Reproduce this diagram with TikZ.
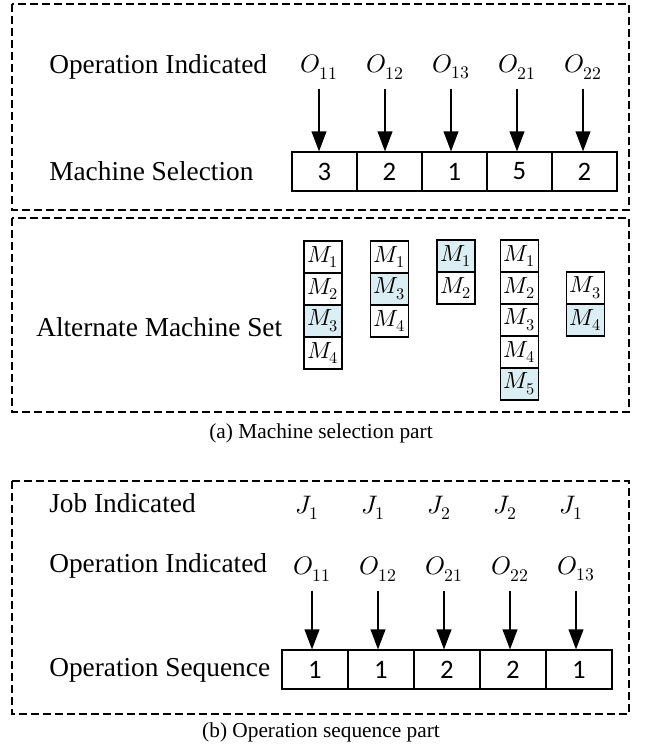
\documentclass[tikz,border=0pt]{standalone}
\usepackage{fontspec}
\usepackage{unicode-math}
\setmainfont{Liberation Serif}
\setmathfont{Latin Modern Math}
\newfontfamily\cellfont{Carlito}
\usetikzlibrary{arrows.meta}
\definecolor{selblue}{RGB}{218,238,243}

\begin{document}
\begin{tikzpicture}[x=0.75pt,y=-0.75pt,
  frame/.style={draw, dash pattern=on 6pt off 3pt, line width=0.8pt},
  rowlabel/.style={anchor=west, inner sep=0pt, font=\fontsize{20.5}{24}\selectfont},
  oplabel/.style={inner sep=1pt, font=\fontsize{19}{21}\selectfont},
  gene/.style={draw, line width=0.8pt, minimum width=48.75pt, minimum height=29.25pt, inner sep=0pt, font=\cellfont\fontsize{20}{24}\selectfont},
  mcell/.style={draw, line width=0.9pt, minimum width=28.5pt, minimum height=24pt, inner sep=0pt, font=\fontsize{17.5}{19}\selectfont},
  chosen/.style={fill=selblue},
  pointer/.style={-{Triangle[length=15pt,width=11pt]}, line width=1.2pt, shorten <=6pt},
  caption/.style={font=\fontsize{16}{18}\selectfont}
]
\useasboundingbox (0,0) rectangle (644,746);

% dashed frames
\draw[frame] (12,4) rectangle (629,210);
\draw[frame] (12,218) rectangle (629,412);
\draw[frame] (12,481) rectangle (629,714);

% ---- machine selection string ----
\node[rowlabel] (opindA) at (49,67) {Operation Indicated};
\node[rowlabel] (msel) at (49,171) {Machine Selection};
\foreach \v [count=\i] in {3,2,1,5,2}
  \node[gene] (g\i) at ({324.5+65*(\i-1)},171.5) {\v};
\foreach \s [count=\i] in {11,12,13,21,22}
  \node[oplabel] (t\i) at ({319+66*(\i-1)},67) {$O_{\s}$};
\foreach \i in {1,...,5}
  \draw[pointer] (t\i.south) -- (t\i.south |- g\i.north);

% ---- alternative machine sets ----
\node[rowlabel] (altset) at (36,327) {Alternate Machine Set};

\node[mcell] (a1) at (323,257) {$M_1$};
\node[mcell] (a2) at (323,289) {$M_2$};
\node[mcell,chosen] (a3) at (323,321) {$M_3$};
\node[mcell] (a4) at (323,353) {$M_4$};

\node[mcell] (b1) at (389.5,257) {$M_1$};
\node[mcell,chosen] (b2) at (389.5,289) {$M_3$};
\node[mcell] (b3) at (389.5,321) {$M_4$};

\node[mcell,chosen] (c1) at (456,256) {$M_1$};
\node[mcell] (c2) at (456,288) {$M_2$};

\node[mcell] (d1) at (519.5,256) {$M_1$};
\node[mcell] (d2) at (519.5,288) {$M_2$};
\node[mcell] (d3) at (519.5,320) {$M_3$};
\node[mcell] (d4) at (519.5,352) {$M_4$};
\node[mcell,chosen] (d5) at (519.5,384) {$M_5$};

\node[mcell] (e1) at (585.5,288) {$M_3$};
\node[mcell,chosen] (e2) at (585.5,320) {$M_4$};

\node[caption] (capA) at (321,433) {(a) Machine selection part};

% ---- operation sequence string ----
\node[rowlabel] (jobind) at (49,503) {Job Indicated};
\node[rowlabel] (opindB) at (49,566) {Operation Indicated};
\node[rowlabel] (oseq) at (49,670) {Operation Sequence};
\foreach \v [count=\i] in {1,1,2,2,1}
  \node[gene,minimum width=49.5pt] (s\i) at ({315+66*(\i-1)},669.5) {\v};
\foreach \j [count=\i] in {1,1,2,2,1}
  \node[oplabel] (j\i) at ({307+66*(\i-1)},508) {$J_{\j}$};
\foreach \s [count=\i] in {11,12,21,22,13}
  \node[oplabel] (u\i) at ({312+66*(\i-1)},569) {$O_{\s}$};
\foreach \i in {1,...,5}
  \draw[pointer] (u\i.south) -- (u\i.south |- s\i.north);

\node[caption] (capB) at (321,732) {(b) Operation sequence part};
\end{tikzpicture}
\end{document}
